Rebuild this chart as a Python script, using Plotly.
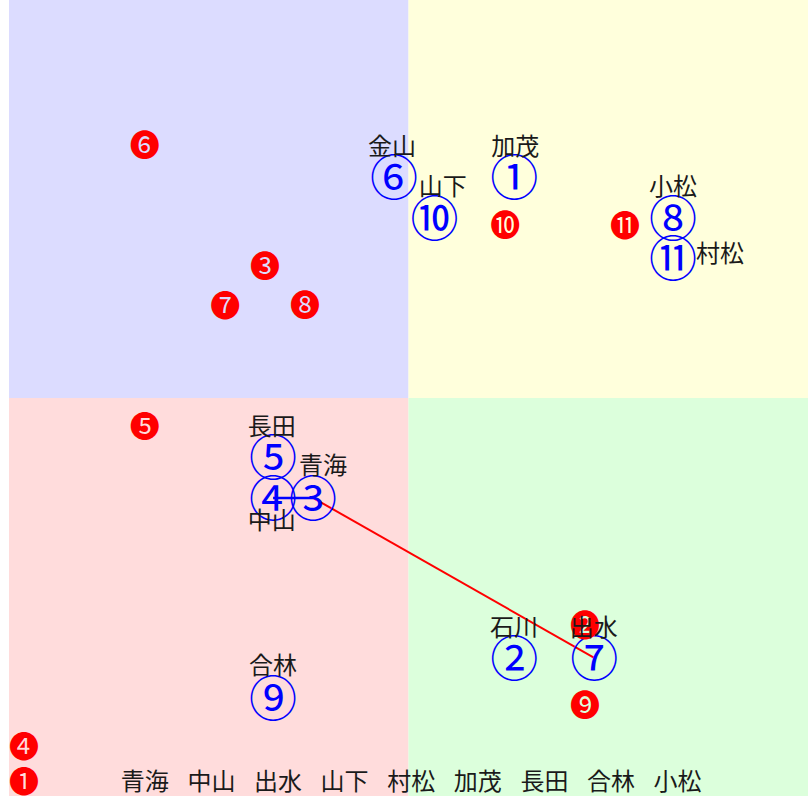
import plotly.graph_objects as go

# Blue circled numbers (positions, data units 0..20)
blue_text = ["①", "②", "③", "④", "⑤", "⑥", "⑦", "⑧", "⑨", "⑩", "⑪"]
blue_x = [12.65, 12.65, 7.61, 6.61, 6.61, 9.64, 14.65, 16.62, 6.61, 10.65, 16.62]
blue_y = [15.40, 3.32, 7.34, 7.34, 8.37, 15.40, 3.32, 14.37, 2.31, 14.37, 13.37]

# Names attached to the blue circled numbers
name_text = ["加茂", "石川", "青海", "中山", "長田", "金山", "出水", "小松", "合林", "山下", "村松"]
name_x = [12.67, 12.64, 7.86, 6.58, 6.58, 9.59, 14.64, 16.62, 6.61, 10.86, 17.80]
name_y = [16.25, 4.17, 8.24, 6.85, 9.22, 16.25, 4.17, 15.25, 3.21, 15.25, 13.56]

# Red filled circled numbers
red_text = ["❶", "❷", "❸", "❹", "❺", "❻", "❼", "❽", "❾", "❿", "⓫"]
red_x = [0.375, 14.42, 6.41, 0.375, 3.40, 3.40, 5.41, 7.41, 14.42, 12.42, 15.42]
red_y = [0.28, 4.20, 13.24, 1.18, 9.22, 16.26, 12.24, 12.24, 2.19, 14.25, 14.25]

# Connections between blue points (indices into blue arrays)
blue_link = [3, 2]   # ④ - ③
red_link = [2, 6]    # ③ - ⑦

# Bottom row of names
bottom_words = ["青海", "中山", "出水", "山下", "村松", "加茂", "長田", "合林", "小松"]
bottom_x0, bottom_step, bottom_y = 3.40, 1.667, 0.30

fig = go.Figure()

quads = [
    (0, 10, 10, 20, "#dcdcff"),
    (10, 20, 10, 20, "#ffffdc"),
    (0, 10, 0, 10, "#ffdcdc"),
    (10, 20, 0, 10, "#dcffdc"),
]
for x0, x1, y0, y1, c in quads:
    fig.add_shape(type="rect", x0=x0, x1=x1, y0=y0, y1=y1, fillcolor=c,
                  line=dict(width=0), layer="below")

# line endpoints sit at the visual centres of the circled numbers
line_dy = 0.15
fig.add_trace(go.Scatter(x=[blue_x[i] for i in blue_link],
                         y=[blue_y[i] + line_dy for i in blue_link],
                         mode="lines", line=dict(color="blue", width=2.5), hoverinfo="skip"))
fig.add_trace(go.Scatter(x=[blue_x[i] for i in red_link],
                         y=[blue_y[i] + line_dy for i in red_link],
                         mode="lines", line=dict(color="red", width=2), hoverinfo="skip"))

fig.add_trace(go.Scatter(x=blue_x, y=blue_y, text=blue_text, mode="text",
                         textposition="middle center", hoverinfo="skip",
                         textfont=dict(size=48, color="blue", family="Noto Sans CJK JP")))
fig.add_trace(go.Scatter(x=red_x, y=red_y, text=red_text, mode="text",
                         textposition="middle center", hoverinfo="skip",
                         textfont=dict(size=30, color="red", family="Noto Sans CJK JP")))
fig.add_trace(go.Scatter(x=name_x, y=name_y, text=name_text, mode="text",
                         textposition="middle center", hoverinfo="skip",
                         textfont=dict(size=24, color="#1a1a1a", family="Noto Sans CJK JP")))
bx = [bottom_x0 + i * bottom_step for i in range(len(bottom_words))]
fig.add_trace(go.Scatter(x=bx, y=[bottom_y] * len(bx), text=bottom_words, mode="text",
                         textposition="middle center", hoverinfo="skip",
                         textfont=dict(size=24, color="#1a1a1a", family="Noto Sans CJK JP")))

fig.update_layout(
    width=808, height=798,
    margin=dict(l=9, r=0, t=0, b=2),
    paper_bgcolor="white", plot_bgcolor="white",
    showlegend=False,
    xaxis=dict(range=[0, 20], visible=False, fixedrange=True),
    yaxis=dict(range=[0, 20], visible=False, fixedrange=True),
)
fig.write_html("out.html", config={"displayModeBar": False},
               post_script="document.body.style.margin='0';")
